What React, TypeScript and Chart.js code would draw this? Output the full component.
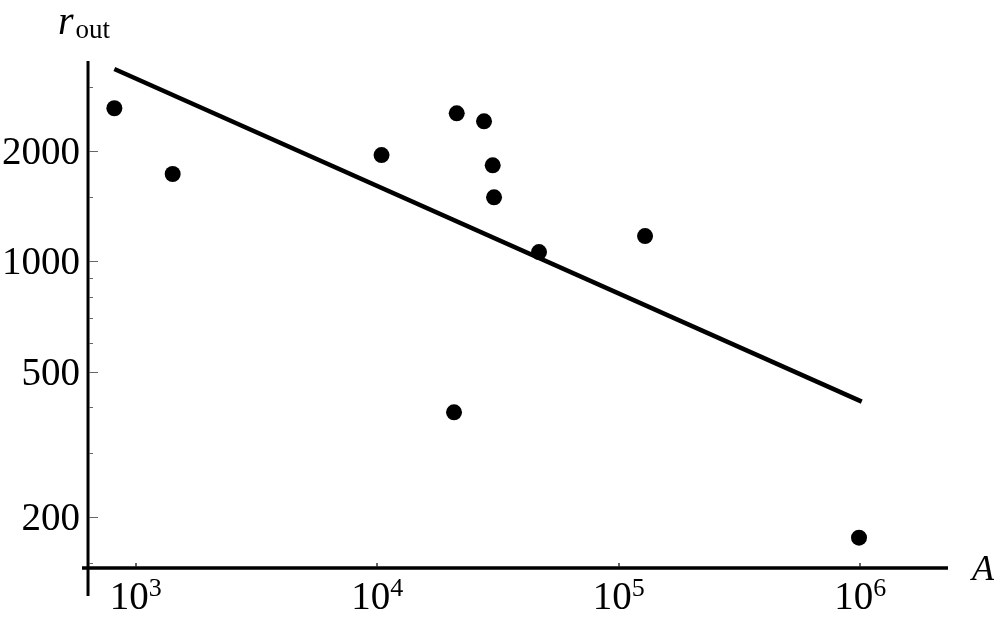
import React, { useEffect, useRef } from "react";
import { Chart, registerables } from "chart.js";

Chart.register(...registerables);

// Data points (A, r_out)
const aValues = [815, 1421, 10410, 21320, 27660, 30050, 30430, 46720, 128400, 20780, 987600];
const rValues = [2617, 1731, 1950, 2535, 2411, 1828, 1495, 1060, 1172, 387, 176];

// Fitted power-law line endpoints
const fitA = [815, 1013500];
const fitR = [3349, 414];

// Axis ranges and crossing point
const xRange = [598.6, 2307000];
const yRange = [122, 3522];
const axisCross = { a: 634, r: 145.4 };

// Ticks
const xMajorTicks = [1e3, 1e4, 1e5, 1e6];
const xTickBase = "10";
const xTickExponents = ["3", "4", "5", "6"];
const yMajorTicks = [200, 500, 1000, 2000];
const yTickLabels = ["200", "500", "1000", "2000"];
const yMinorTicks = [150, 300, 400, 600, 700, 800, 900, 1500, 3000];

const xAxisLabel = "A";
const yAxisLabelMain = "r";
const yAxisLabelSub = "out";

const SERIF = "'Liberation Serif', 'Times New Roman', serif";

const axesPlugin = {
  id: "mmaAxes",
  afterDatasetsDraw(chart: any) {
    const { ctx, chartArea } = chart;
    const xs = chart.scales.x;
    const ys = chart.scales.y;
    const ax = xs.getPixelForValue(axisCross.a);
    const ay = ys.getPixelForValue(axisCross.r);
    ctx.save();

    // minor & major y ticks
    ctx.strokeStyle = "#666666";
    ctx.lineWidth = 1;
    yMinorTicks.forEach((v) => {
      const py = Math.round(ys.getPixelForValue(v)) + 0.5;
      ctx.beginPath();
      ctx.moveTo(ax + 1.5, py);
      ctx.lineTo(ax + 5, py);
      ctx.stroke();
    });
    yMajorTicks.forEach((v) => {
      const py = Math.round(ys.getPixelForValue(v)) + 0.5;
      ctx.beginPath();
      ctx.moveTo(ax + 1.5, py);
      ctx.lineTo(ax + 10, py);
      ctx.stroke();
    });
    // x ticks
    ctx.lineWidth = 2;
    xMajorTicks.forEach((v) => {
      const px = Math.round(xs.getPixelForValue(v));
      ctx.beginPath();
      ctx.moveTo(px, ay - 1.5);
      ctx.lineTo(px, ay - 5);
      ctx.stroke();
    });

    // axis lines
    ctx.strokeStyle = "#000000";
    ctx.lineWidth = 3;
    ctx.beginPath();
    ctx.moveTo(ax, chartArea.top);
    ctx.lineTo(ax, chartArea.bottom);
    ctx.stroke();
    ctx.lineWidth = 3.5;
    ctx.beginPath();
    ctx.moveTo(chartArea.left, ay);
    ctx.lineTo(chartArea.right, ay);
    ctx.stroke();

    // y tick labels
    ctx.fillStyle = "#000000";
    ctx.font = `39px ${SERIF}`;
    ctx.textAlign = "right";
    ctx.textBaseline = "alphabetic";
    yMajorTicks.forEach((v, i) => {
      const py = ys.getPixelForValue(v);
      ctx.fillText(yTickLabels[i], ax - 8, py + 13);
    });

    // x tick labels 10^n
    xMajorTicks.forEach((v, i) => {
      const px = xs.getPixelForValue(v);
      ctx.font = `39px ${SERIF}`;
      const wb = ctx.measureText(xTickBase).width;
      ctx.font = `26px ${SERIF}`;
      const we = ctx.measureText(xTickExponents[i]).width;
      const start = px - (wb + we) / 2;
      ctx.textAlign = "left";
      ctx.font = `39px ${SERIF}`;
      ctx.fillText(xTickBase, start, ay + 41);
      ctx.font = `26px ${SERIF}`;
      ctx.fillText(xTickExponents[i], start + wb, ay + 28);
    });

    // axis labels
    ctx.textAlign = "left";
    ctx.font = `italic 40px ${SERIF}`;
    ctx.fillText(yAxisLabelMain, 58, 34);
    const wr = ctx.measureText(yAxisLabelMain).width;
    ctx.font = `27px ${SERIF}`;
    ctx.fillText(yAxisLabelSub, 58 + wr + 2, 38);

    ctx.font = `italic 36px ${SERIF}`;
    ctx.fillText(xAxisLabel, chartArea.right + 24, ay + 12);

    ctx.restore();
  },
};

export default function App() {
  const canvasRef = useRef<HTMLCanvasElement | null>(null);

  useEffect(() => {
    const canvas = canvasRef.current;
    if (!canvas) return;
    const chart = new Chart(canvas, {
      type: "scatter",
      data: {
        datasets: [
          {
            label: "fit",
            data: fitA.map((a, i) => ({ x: a, y: fitR[i] })),
            showLine: true,
            borderColor: "#000000",
            borderWidth: 4.5,
            pointRadius: 0,
            borderCapStyle: "butt",
            order: 2,
          },
          {
            label: "data",
            data: aValues.map((a, i) => ({ x: a, y: rValues[i] })),
            backgroundColor: "#000000",
            borderColor: "#000000",
            borderWidth: 0,
            pointRadius: 8,
            order: 1,
          },
        ],
      },
      options: {
        responsive: false,
        animation: false,
        devicePixelRatio: 1,
        layout: { padding: { left: 82, right: 52, top: 61, bottom: 25 } },
        plugins: {
          legend: { display: false },
          tooltip: { enabled: false },
          title: { display: false },
        },
        scales: {
          x: { type: "logarithmic", min: xRange[0], max: xRange[1], display: false },
          y: { type: "logarithmic", min: yRange[0], max: yRange[1], display: false },
        },
      },
      plugins: [axesPlugin],
    } as any);
    return () => chart.destroy();
  }, []);

  return (
    <div style={{ position: "fixed", left: 0, top: 0, width: 1000, height: 621, background: "#ffffff" }}>
      <canvas ref={canvasRef} width={1000} height={621} style={{ width: 1000, height: 621, display: "block" }} />
    </div>
  );
}
